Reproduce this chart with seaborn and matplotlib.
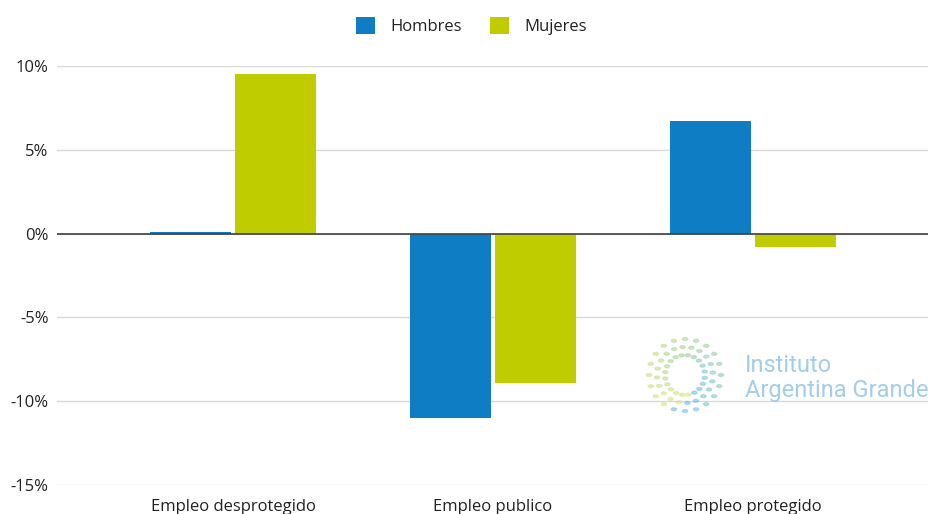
import numpy as np
import pandas as pd
import seaborn as sns
import matplotlib.pyplot as plt
from matplotlib.ticker import FuncFormatter

# Datos
categorias = ['Empleo desprotegido', 'Empleo publico', 'Empleo protegido']
hombres = [0.12, -11.0, 6.7]
mujeres = [9.5, -8.9, -0.8]
series = ['Hombres', 'Mujeres']
colores = ['#0E7DC3', '#BFCC00']
yticks = [-15, -10, -5, 0, 5, 10]

df = pd.DataFrame({
    'categoria': categorias * 2,
    'serie': ['Hombres'] * 3 + ['Mujeres'] * 3,
    'valor': hombres + mujeres,
})

sns.set_theme(style='white')
plt.rcParams['font.family'] = ['Open Sans', 'DejaVu Sans']

fig = plt.figure(figsize=(9.29, 5.14), dpi=100)
ax = fig.add_axes([57 / 929, 1 - 485 / 514, 1 - 57 / 929, (485 - 66) / 514])

sns.barplot(data=df, x='categoria', y='valor', hue='serie', palette=colores,
            hue_order=series, order=categorias, width=0.65, ax=ax,
            linewidth=0, saturation=1)

# pequeño espacio entre barras
for p in ax.patches:
    w = p.get_width()
    if w > 0:
        p.set_x(p.get_x() + 0.006)
        p.set_width(w - 0.012)

ax.set_ylim(-15, 10)
ax.set_xlim(-0.677, 2.677)
ax.set_yticks(yticks)
ax.yaxis.set_major_formatter(FuncFormatter(lambda v, p: f'{v:.0f}%'))
ax.grid(axis='y', color='#d9d9d9', linewidth=1)
ax.set_axisbelow(True)
ax.axhline(0, color='#404040', linewidth=1.2, zorder=1.5)
for s in ax.spines.values():
    s.set_visible(False)
ax.set_xlabel('')
ax.set_ylabel('')
ax.tick_params(axis='both', length=0, labelsize=12, colors='#222222')
ax.tick_params(axis='x', pad=10)
ax.tick_params(axis='y', pad=6)

leg = ax.legend(loc='center', bbox_to_anchor=(0.475, 1 + 40 / 419), ncol=2,
                frameon=False, fontsize=12, handlelength=1.15, handleheight=1.15,
                columnspacing=1.7, handletextpad=0.9)
for t in leg.get_texts():
    t.set_color('#222222')

# Marca de agua
fig.text(745 / 929, 1 - 365 / 514, 'Instituto', color='#A3CDEB', fontsize=17,
         va='center', ha='left', family=['Roboto', 'DejaVu Sans'])
fig.text(745 / 929, 1 - 391 / 514, 'Argentina Grande', color='#A3CDEB', fontsize=17,
         va='center', ha='left', family=['Roboto', 'DejaVu Sans'])
ang = np.linspace(-0.6 * np.pi, 1.3 * np.pi, 20)
cmap = plt.matplotlib.colors.LinearSegmentedColormap.from_list('logo', ['#5BB3E6', '#9CCB8A', '#D8E26A'])
for r, a0 in [(36, 0.0), (28, 0.4), (20, 0.8)]:
    cx, cy = 685, 375
    xs = (cx + r * np.cos(ang + a0)) / 929
    ys = 1 - (cy - r * np.sin(ang + a0)) / 514
    cs = cmap(np.linspace(0, 1, len(xs)))
    for x, y, c in zip(xs, ys, cs):
        fig.patches.append(plt.Circle((x, y), 0.0028, transform=fig.transFigure,
                                      color=c, alpha=0.45, figure=fig))

fig.savefig('out.png', dpi=100)
